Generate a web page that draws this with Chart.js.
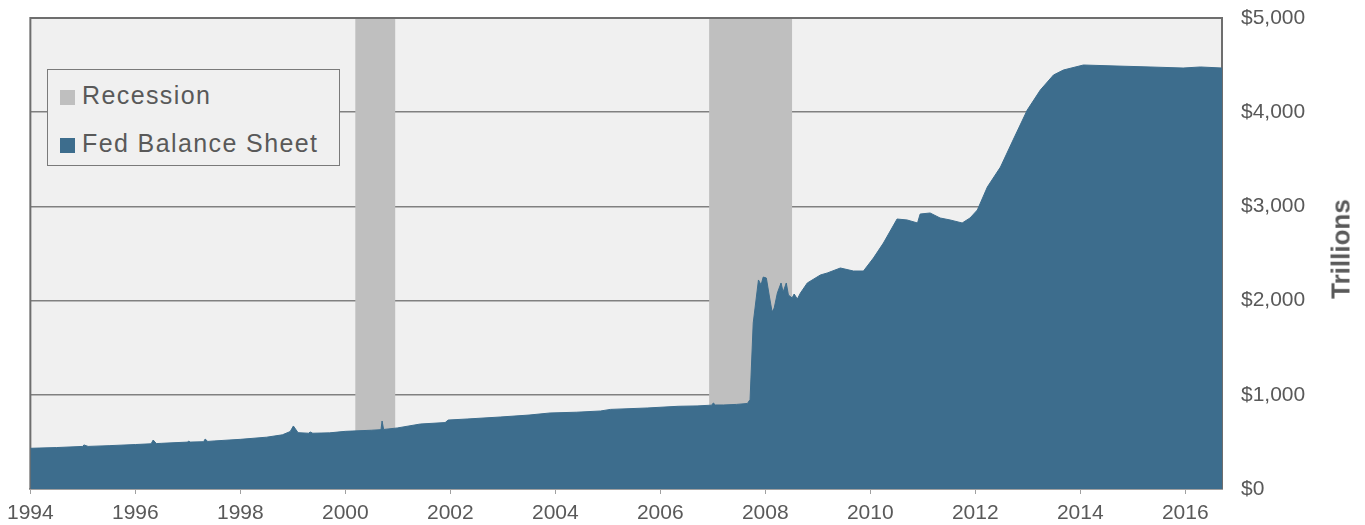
<!DOCTYPE html>
<html>
<head>
<meta charset="utf-8">
<script src="https://cdn.jsdelivr.net/npm/chart.js@4.4.1/dist/chart.umd.min.js"></script>
<style>
    body { margin: 0; background: #fff; }
    #wrap { position: relative; width: 1365px; height: 525px; }
    #legend {
        position: absolute; left: 47px; top: 69px; width: 291px; height: 95px;
        border: 1.5px solid #7a7a7a; background: #f0f0f0;
        font-family: "Liberation Sans", Arial, sans-serif; font-size: 25px; color: #595959;
        letter-spacing: 1.4px;
    }
    #legend .item { position: absolute; left: 12px; height: 24px; line-height: 24px; white-space: nowrap; }
    #legend .sw { display: inline-block; width: 15px; height: 15px; margin-right: 7px; vertical-align: -1px; }
    #yTitle {
        position: absolute; left: 1341px; top: 249px;
        transform: translate(-50%, -50%) rotate(-90deg);
        font: bold 26px "Liberation Sans", Arial, sans-serif; color: #595959; white-space: nowrap;
    }
</style>
</head>
<body>
<div id="wrap">
    <canvas id="fedChart"></canvas>
    <div id="legend">
        <div class="item" style="top:13px"><span class="sw" style="background:#bfbfbf"></span>Recession</div>
        <div class="item" style="top:61px"><span class="sw" style="background:#3d6d8d"></span>Fed Balance Sheet</div>
    </div>
    <div id="yTitle">Trillions</div>
</div>
<script>
// Fed balance sheet, billions of dollars
const years = [
    1994.00, 1994.50, 1995.00, 1995.02, 1995.10, 1995.50, 1996.00, 1996.30, 1996.34, 1996.40,
    1996.50, 1997.00, 1997.01, 1997.05, 1997.30, 1997.33, 1997.38, 1997.50, 1998.00, 1998.50,
    1998.80, 1998.95, 1999.01, 1999.10, 1999.30, 1999.33, 1999.38, 1999.70, 2000.00, 2000.50,
    2000.68, 2000.70, 2000.73, 2000.99, 2001.43, 2001.90, 2001.96, 2002.32, 2002.95, 2003.50,
    2003.90, 2004.40, 2004.86, 2005.05, 2005.75, 2006.34, 2006.70, 2006.98, 2007.01, 2007.05,
    2007.20, 2007.45, 2007.66, 2007.71, 2007.77, 2007.87, 2007.92, 2007.96, 2008.02, 2008.08,
    2008.13, 2008.17, 2008.23, 2008.30, 2008.34, 2008.40, 2008.44, 2008.51, 2008.55, 2008.61,
    2008.67, 2008.80, 2009.05, 2009.18, 2009.43, 2009.68, 2009.87, 2010.06, 2010.25, 2010.51,
    2010.70, 2010.90, 2010.95, 2011.14, 2011.33, 2011.52, 2011.75, 2011.90, 2012.04, 2012.23,
    2012.48, 2012.72, 2012.99, 2013.24, 2013.49, 2013.68, 2014.06, 2014.70, 2015.33, 2015.96,
    2016.29, 2016.70
];
const fedBalance = [
    432, 440, 452, 468, 452, 460, 472, 480, 520, 482,
    485, 498, 508, 498, 502, 530, 505, 510, 527, 550,
    575, 610, 669, 598, 592, 605, 592, 596, 612, 624,
    630, 722, 632, 648, 690, 705, 732, 743, 764, 785,
    807, 815, 828, 845, 860, 878, 882, 890, 913, 892,
    892, 898, 908, 950, 1762, 2219, 2166, 2250, 2240, 2038,
    1879, 1921, 2081, 2187, 2091, 2187, 2060, 2028, 2070, 2017,
    2081, 2187, 2272, 2293, 2346, 2314, 2314, 2452, 2611, 2866,
    2856, 2824, 2919, 2930, 2877, 2856, 2824, 2877, 2962, 3206,
    3418, 3705, 4023, 4236, 4395, 4448, 4501, 4490, 4480, 4469,
    4480, 4469
];

// Recession bands as drawn on the picture
const recessionStart = [2000.19, 2006.93];
const recessionEnd = [2000.95, 2008.51];

const xMin = 1994, xMax = 2016.7;
const yTicks = [0, 1000, 2000, 3000, 4000, 5000];

const FONT = "'Liberation Sans', Arial, sans-serif";
const TEXT = "#595959";

// Plot background, recession bands and frame
const plotDecor = {
    id: "plotDecor",
    beforeDraw(chart) {
        const { ctx, chartArea: a } = chart;
        ctx.save();
        ctx.fillStyle = "#f0f0f0";
        ctx.fillRect(a.left, a.top, a.right - a.left, a.bottom - a.top);
        ctx.restore();
    },
    beforeDatasetsDraw(chart) {
        const { ctx, chartArea: a, scales } = chart;
        ctx.save();
        ctx.fillStyle = "#bfbfbf";
        recessionStart.forEach((s, i) => {
            const x1 = scales.x.getPixelForValue(s);
            const x2 = scales.x.getPixelForValue(recessionEnd[i]);
            ctx.fillRect(x1, a.top, x2 - x1, a.bottom - a.top);
        });
        ctx.strokeStyle = "#6e6e6e";
        ctx.lineWidth = 2;
        ctx.beginPath();
        ctx.moveTo(a.left, a.bottom);
        ctx.lineTo(a.left, a.top);
        ctx.lineTo(a.right, a.top);
        ctx.lineTo(a.right, a.bottom);
        ctx.stroke();
        ctx.restore();
    }
};

const chart = new Chart(document.getElementById("fedChart"), {
    type: "line",
    data: {
        datasets: [{
            label: "Fed Balance Sheet",
            data: years.map((x, i) => ({ x, y: fedBalance[i] })),
            borderColor: "#3d6d8d",
            backgroundColor: "#3d6d8d",
            borderWidth: 1,
            pointRadius: 0,
            tension: 0,
            fill: "origin"
        }]
    },
    options: {
        responsive: true,
        maintainAspectRatio: false,
        animation: false,
        layout: { padding: { left: 30, top: 18, right: 0, bottom: 0 } },
        plugins: {
            legend: { display: false },
            tooltip: { enabled: false }
        },
        scales: {
            x: {
                type: "linear",
                min: xMin,
                max: xMax,
                afterFit: s => { s.height = 36; },
                grid: { drawOnChartArea: false, drawTicks: true, tickLength: 5, color: "#a0a0a0" },
                border: { display: true, color: "#a0a0a0", width: 2 },
                ticks: {
                    stepSize: 2,
                    includeBounds: false,
                    maxRotation: 0,
                    autoSkip: false,
                    padding: 7,
                    color: TEXT,
                    font: { family: FONT, size: 21 },
                    callback: v => (Number.isInteger(v) && v % 2 === 0) ? String(v) : ""
                }
            },
            y: {
                position: "right",
                min: 0,
                max: 5000,
                afterFit: s => { s.width = 143; s.paddingTop = 0; s.paddingBottom = 0; },
                afterBuildTicks: s => { s.ticks = yTicks.map(v => ({ value: v })); },
                grid: { color: "#808080", lineWidth: 1.5, drawTicks: false },
                border: { display: false },
                ticks: {
                    padding: 19,
                    color: TEXT,
                    font: { family: FONT, size: 21 },
                    callback: v => "$" + v.toLocaleString("en-US")
                }
            }
        }
    },
    plugins: [plotDecor]
});
</script>
</body>
</html>
